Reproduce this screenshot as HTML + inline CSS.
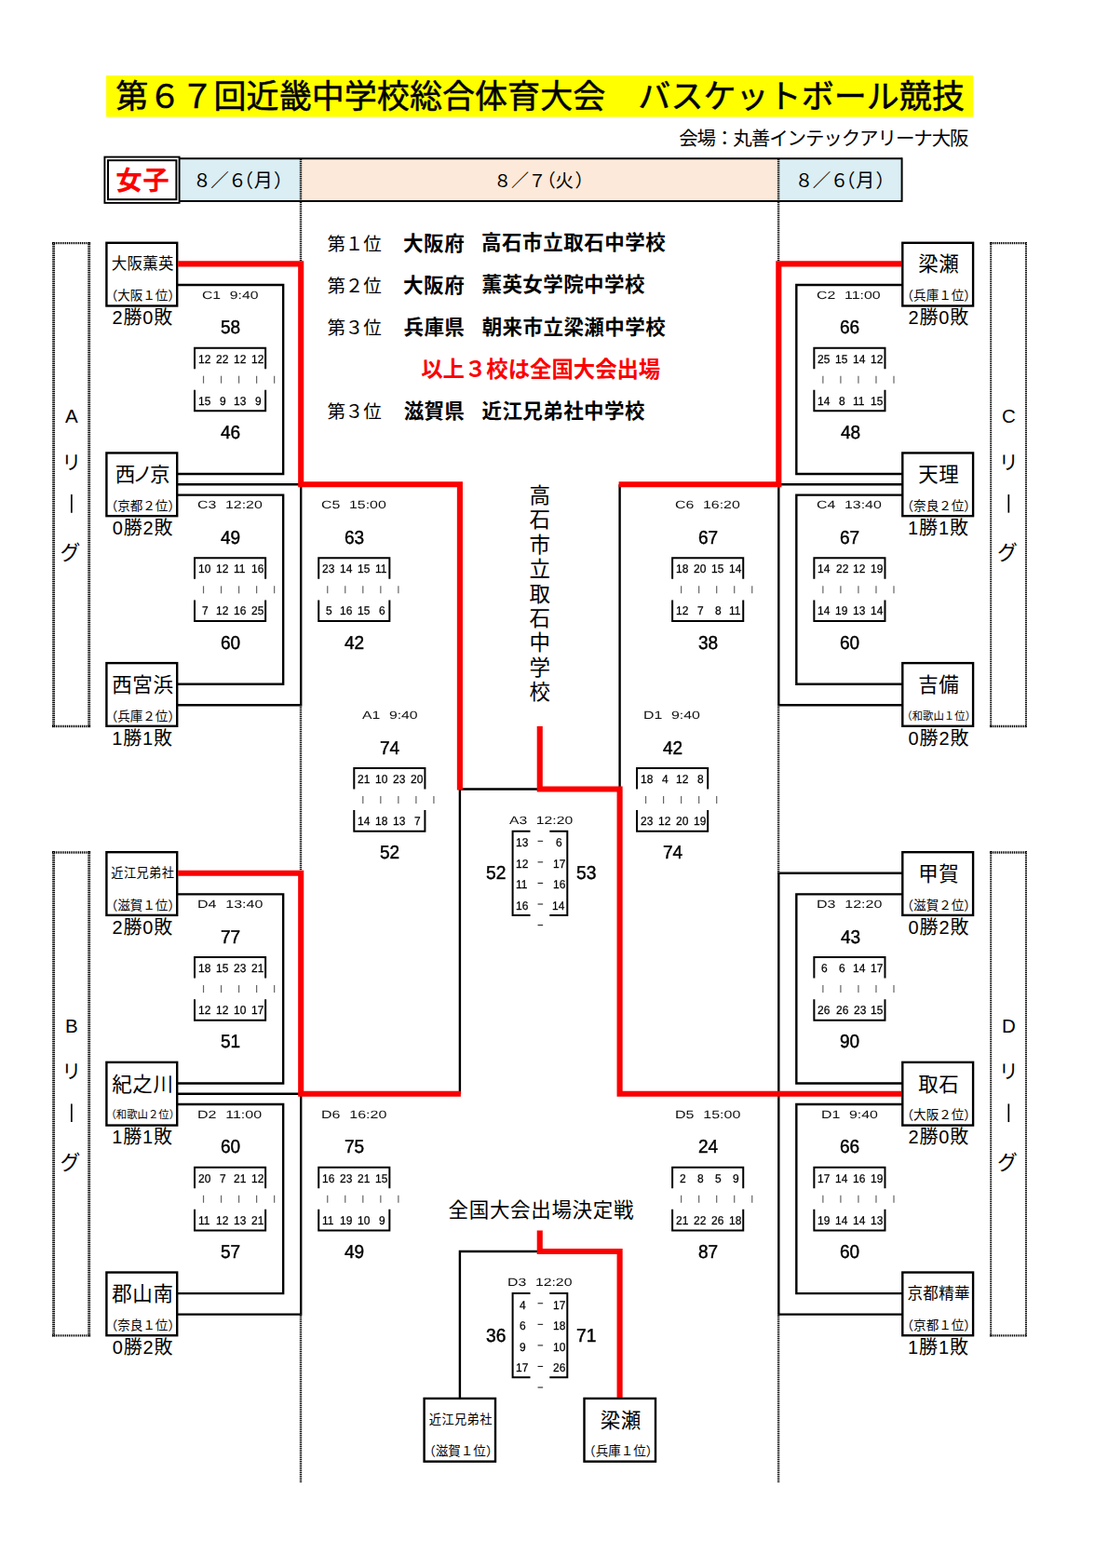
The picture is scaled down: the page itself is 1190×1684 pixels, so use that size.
<!DOCTYPE html>
<html lang="ja"><head><meta charset="utf-8">
<title>第67回近畿中学校総合体育大会 バスケットボール競技 女子</title>
<style>
html,body{margin:0;padding:0;background:#fff}
body{width:1190px;height:1684px;position:relative;overflow:hidden;font-family:"Liberation Sans",sans-serif;color:#000}
#art{position:absolute;left:0;top:0;width:1190px;height:1684px;display:block}
#art text{font-family:"Liberation Sans","Noto Sans CJK JP",sans-serif;fill:#000}
#art text.r{fill:#fb0000}
.t{position:absolute;white-space:pre;line-height:1;margin:0;padding:0}
.t{transform-origin:0 50%;text-rendering:geometricPrecision}
.t.b{-webkit-text-stroke:.45px #000}
.t.q{-webkit-text-stroke:.25px #000}
#labels{transform:translateZ(0)}
</style></head><body>
<svg id="art" width="1190" height="1684" viewBox="0 0 1190 1684">
<rect x="114.10" y="81.10" width="931.10" height="44.50" fill="#ffff00"/>
<rect x="193.00" y="170.30" width="130.20" height="45.60" fill="#daeef3"/>
<rect x="323.20" y="170.30" width="513.10" height="45.60" fill="#fde9d9"/>
<rect x="836.30" y="170.30" width="132.30" height="45.60" fill="#daeef3"/>
<path d="M323.00 171V281" stroke="#000" stroke-width="2.4" stroke-dasharray="1.15 0.85" fill="none"/>
<path d="M323.00 759V936" stroke="#000" stroke-width="2.4" stroke-dasharray="1.15 0.85" fill="none"/>
<path d="M323.00 1413V1592" stroke="#000" stroke-width="2.4" stroke-dasharray="1.15 0.85" fill="none"/>
<path d="M836.10 171V281" stroke="#000" stroke-width="2.4" stroke-dasharray="1.15 0.85" fill="none"/>
<path d="M836.10 759V938" stroke="#000" stroke-width="2.4" stroke-dasharray="1.15 0.85" fill="none"/>
<path d="M836.10 1413V1592" stroke="#000" stroke-width="2.4" stroke-dasharray="1.15 0.85" fill="none"/>
<path d="M193.00 170.30 L968.60 170.30" fill="none" stroke="#000" stroke-width="2.00" stroke-linecap="butt" stroke-linejoin="miter"/>
<path d="M193.00 215.90 L968.60 215.90" fill="none" stroke="#000" stroke-width="2.00" stroke-linecap="butt" stroke-linejoin="miter"/>
<path d="M968.60 169.30 L968.60 216.90" fill="none" stroke="#000" stroke-width="2.00" stroke-linecap="butt" stroke-linejoin="miter"/>
<rect x="112.40" y="168.60" width="80.20" height="49.30" fill="none" stroke="#000" stroke-width="1.90"/>
<rect x="116.00" y="172.20" width="73.40" height="42.00" fill="none" stroke="#000" stroke-width="2.00"/>
<text x="124.34" y="115.71" font-size="35" textLength="911.6" stroke="#000" stroke-width="0.5">第６７回近畿中学校総合体育大会　バスケットボール競技</text>
<text x="729.16" y="155.83" font-size="20.5" textLength="311.4">会場：丸善インテックアリーナ大阪</text>
<text class="r" x="124.21" y="204.18" font-size="28.5" font-weight="bold" textLength="57.5">女子</text>
<text x="207.25" y="201.25" font-size="19.5" textLength="57.5">８／６</text>
<text x="252 272.7 294.1" y="201.29" font-size="20">（月）</text>
<text x="530.33" y="201.25" font-size="19" textLength="56.2">８／７</text>
<text x="577.3 596.6 617.4" y="201.39" font-size="19.5">（火）</text>
<text x="853.75" y="201.25" font-size="19.5" textLength="57.5">８／６</text>
<text x="898.4 919.2 940.6" y="201.29" font-size="20">（月）</text>
<text x="351.42" y="268.75" font-size="19.5" textLength="58.4">第１位</text>
<text x="433.00" y="268.50" font-size="21.5" font-weight="bold" textLength="65.7">大阪府</text>
<text x="517.10" y="268.41" font-size="21.5" font-weight="bold" textLength="197.6">高石市立取石中学校</text>
<text x="351.42" y="313.88" font-size="19.5" textLength="58.4">第２位</text>
<text x="433.00" y="313.63" font-size="21.5" font-weight="bold" textLength="65.7">大阪府</text>
<text x="517.48" y="313.39" font-size="21.5" font-weight="bold" textLength="175">薫英女学院中学校</text>
<text x="351.42" y="359.01" font-size="19.5" textLength="58.4">第３位</text>
<text x="433.46" y="358.82" font-size="21.5" font-weight="bold" textLength="65.4">兵庫県</text>
<text x="517.66" y="358.65" font-size="21.5" font-weight="bold" textLength="197">朝来市立梁瀬中学校</text>
<text x="351.42" y="449.28" font-size="19.5" textLength="58.4">第３位</text>
<text x="433.67" y="448.86" font-size="21.5" font-weight="bold" textLength="65.2">滋賀県</text>
<text x="517.48" y="449.03" font-size="21.5" font-weight="bold" textLength="175">近江兄弟社中学校</text>
<text class="r" x="452.24" y="405.14" font-size="23.4" font-weight="bold" textLength="257">以上３校は全国大会出場</text>
<path d="M57.60 260V781" stroke="#000" stroke-width="2.9" stroke-dasharray="1.2 0.8" fill="none"/>
<path d="M95.70 260V781" stroke="#000" stroke-width="2.9" stroke-dasharray="1.2 0.8" fill="none"/>
<path d="M56 261.10H97" stroke="#000" stroke-width="2.3" stroke-dasharray="1.2 0.8" fill="none"/>
<path d="M56 780.02H97" stroke="#000" stroke-width="2.3" stroke-dasharray="1.2 0.8" fill="none"/>
<text x="76.85" y="454.3" font-size="20.5" text-anchor="middle">A</text>
<text x="76.85" y="503.79" font-size="21" text-anchor="middle">リ</text>
<path d="M76.85 531.06 L76.85 550.66" fill="none" stroke="#000" stroke-width="1.70" stroke-linecap="butt" stroke-linejoin="miter"/>
<text x="64.60" y="601.33" font-size="21.8">グ</text>
<path d="M57.60 914V1436" stroke="#000" stroke-width="2.9" stroke-dasharray="1.2 0.8" fill="none"/>
<path d="M95.70 914V1436" stroke="#000" stroke-width="2.9" stroke-dasharray="1.2 0.8" fill="none"/>
<path d="M56 915.51H97" stroke="#000" stroke-width="2.3" stroke-dasharray="1.2 0.8" fill="none"/>
<path d="M56 1434.43H97" stroke="#000" stroke-width="2.3" stroke-dasharray="1.2 0.8" fill="none"/>
<text x="76.85" y="1108.7" font-size="20.5" text-anchor="middle">B</text>
<text x="76.85" y="1158.20" font-size="21" text-anchor="middle">リ</text>
<path d="M76.85 1185.47 L76.85 1205.07" fill="none" stroke="#000" stroke-width="1.70" stroke-linecap="butt" stroke-linejoin="miter"/>
<text x="64.60" y="1255.74" font-size="21.8">グ</text>
<path d="M1064.20 260V781" stroke="#000" stroke-width="2.0" stroke-dasharray="1.2 0.8" fill="none"/>
<path d="M1102.00 260V781" stroke="#000" stroke-width="2.0" stroke-dasharray="1.2 0.8" fill="none"/>
<path d="M1063 261.10H1103" stroke="#000" stroke-width="2.3" stroke-dasharray="1.2 0.8" fill="none"/>
<path d="M1063 780.02H1103" stroke="#000" stroke-width="2.3" stroke-dasharray="1.2 0.8" fill="none"/>
<text x="1083.3" y="454.3" font-size="20.5" text-anchor="middle">C</text>
<text x="1083.3" y="503.79" font-size="21" text-anchor="middle">リ</text>
<path d="M1083.30 531.06 L1083.30 550.66" fill="none" stroke="#000" stroke-width="1.70" stroke-linecap="butt" stroke-linejoin="miter"/>
<text x="1071.05" y="601.33" font-size="21.8">グ</text>
<path d="M1064.20 914V1436" stroke="#000" stroke-width="2.0" stroke-dasharray="1.2 0.8" fill="none"/>
<path d="M1102.00 914V1436" stroke="#000" stroke-width="2.0" stroke-dasharray="1.2 0.8" fill="none"/>
<path d="M1063 915.51H1103" stroke="#000" stroke-width="2.3" stroke-dasharray="1.2 0.8" fill="none"/>
<path d="M1063 1434.43H1103" stroke="#000" stroke-width="2.3" stroke-dasharray="1.2 0.8" fill="none"/>
<text x="1083.3" y="1108.7" font-size="20.5" text-anchor="middle">D</text>
<text x="1083.3" y="1158.20" font-size="21" text-anchor="middle">リ</text>
<path d="M1083.30 1185.47 L1083.30 1205.07" fill="none" stroke="#000" stroke-width="1.70" stroke-linecap="butt" stroke-linejoin="miter"/>
<text x="1071.05" y="1255.74" font-size="21.8">グ</text>
<text font-size="22.5" x="568.48 568.48 568.48 568.48 568.48 568.48 568.48 568.48 568.48" y="539.74 566.19 592.64 619.09 645.54 671.99 698.44 724.89 751.34">高石市立取石中学校</text>
<text x="481.55" y="1306.50" font-size="21.5" textLength="198.9">全国大会出場決定戦</text>
<rect x="114.40" y="260.80" width="75.80" height="67.70" fill="none" stroke="#000" stroke-width="2.40"/>
<text x="119.70" y="289.09" font-size="16.5" textLength="66.8">大阪薫英</text>
<text x="112.65" y="322.18" font-size="13.56">（大阪１位）</text>
<text x="120.54" y="348.33" font-size="20" textLength="64.8">2勝0敗</text>
<rect x="114.40" y="486.46" width="75.80" height="67.70" fill="none" stroke="#000" stroke-width="2.40"/>
<text x="123.65" y="517.13" font-size="21.5" textLength="58.9">西ノ京</text>
<text x="112.65" y="547.84" font-size="13.56">（京都２位）</text>
<text x="120.69" y="573.99" font-size="20" textLength="64.8">0勝2敗</text>
<rect x="114.40" y="712.12" width="75.80" height="67.70" fill="none" stroke="#000" stroke-width="2.40"/>
<text x="120.25" y="742.79" font-size="21.5" textLength="65.7">西宮浜</text>
<text x="112.65" y="773.50" font-size="13.56">（兵庫２位）</text>
<text x="120.20" y="799.65" font-size="20" textLength="64.8">1勝1敗</text>
<rect x="114.40" y="915.21" width="75.80" height="67.70" fill="none" stroke="#000" stroke-width="2.40"/>
<text x="119.35" y="942.29" font-size="13.2" textLength="67.5">近江兄弟社</text>
<text x="112.65" y="976.60" font-size="13.56">（滋賀１位）</text>
<text x="120.54" y="1002.74" font-size="20" textLength="64.8">2勝0敗</text>
<rect x="114.40" y="1140.87" width="75.80" height="67.70" fill="none" stroke="#000" stroke-width="2.40"/>
<text x="120.25" y="1171.54" font-size="21.5" textLength="65.7">紀之川</text>
<text x="113.40" y="1201.31" font-size="11.4">（和歌山２位）</text>
<text x="120.20" y="1228.40" font-size="20" textLength="64.8">1勝1敗</text>
<rect x="114.40" y="1366.53" width="75.80" height="67.70" fill="none" stroke="#000" stroke-width="2.40"/>
<text x="120.25" y="1397.20" font-size="21.5" textLength="65.7">郡山南</text>
<text x="112.65" y="1427.92" font-size="13.56">（奈良１位）</text>
<text x="120.69" y="1454.06" font-size="20" textLength="64.8">0勝2敗</text>
<rect x="969.30" y="260.80" width="75.80" height="67.70" fill="none" stroke="#000" stroke-width="2.40"/>
<text x="986.20" y="291.43" font-size="21.5" textLength="43.6">梁瀬</text>
<text x="967.55" y="322.18" font-size="13.56">（兵庫１位）</text>
<text x="975.44" y="348.33" font-size="20" textLength="64.8">2勝0敗</text>
<rect x="969.30" y="486.46" width="75.80" height="67.70" fill="none" stroke="#000" stroke-width="2.40"/>
<text x="986.20" y="517.09" font-size="21.5" textLength="43.6">天理</text>
<text x="967.55" y="547.84" font-size="13.56">（奈良２位）</text>
<text x="975.10" y="573.99" font-size="20" textLength="64.8">1勝1敗</text>
<rect x="969.30" y="712.12" width="75.80" height="67.70" fill="none" stroke="#000" stroke-width="2.40"/>
<text x="986.20" y="742.75" font-size="21.5" textLength="43.6">吉備</text>
<text x="968.30" y="772.55" font-size="11.4">（和歌山１位）</text>
<text x="975.59" y="799.65" font-size="20" textLength="64.8">0勝2敗</text>
<rect x="969.30" y="915.21" width="75.80" height="67.70" fill="none" stroke="#000" stroke-width="2.40"/>
<text x="986.20" y="945.85" font-size="21.5" textLength="43.6">甲賀</text>
<text x="967.55" y="976.60" font-size="13.56">（滋賀２位）</text>
<text x="975.59" y="1002.74" font-size="20" textLength="64.8">0勝2敗</text>
<rect x="969.30" y="1140.87" width="75.80" height="67.70" fill="none" stroke="#000" stroke-width="2.40"/>
<text x="986.20" y="1171.51" font-size="21.5" textLength="43.6">取石</text>
<text x="967.55" y="1202.26" font-size="13.56">（大阪２位）</text>
<text x="975.44" y="1228.40" font-size="20" textLength="64.8">2勝0敗</text>
<rect x="969.30" y="1366.53" width="75.80" height="67.70" fill="none" stroke="#000" stroke-width="2.40"/>
<text x="974.60" y="1394.83" font-size="16.5" textLength="66.8">京都精華</text>
<text x="967.55" y="1427.92" font-size="13.56">（京都１位）</text>
<text x="975.10" y="1454.06" font-size="20" textLength="64.8">1勝1敗</text>
<rect x="455.60" y="1501.93" width="76.40" height="67.70" fill="none" stroke="#000" stroke-width="2.40"/>
<text x="460.85" y="1529.01" font-size="13.2" textLength="67.5">近江兄弟社</text>
<text x="454.15" y="1563.31" font-size="13.56">（滋賀１位）</text>
<rect x="627.50" y="1501.93" width="76.50" height="67.70" fill="none" stroke="#000" stroke-width="2.40"/>
<text x="644.75" y="1532.56" font-size="21.5" textLength="43.6">梁瀬</text>
<text x="626.10" y="1563.31" font-size="13.56">（兵庫１位）</text>
<path d="M190.20 305.93 L304.17 305.93 L304.17 509.03 L190.20 509.03" fill="none" stroke="#000" stroke-width="2.40" stroke-linecap="butt" stroke-linejoin="miter"/>
<path d="M190.20 531.59 L304.17 531.59 L304.17 734.69 L190.20 734.69" fill="none" stroke="#000" stroke-width="2.40" stroke-linecap="butt" stroke-linejoin="miter"/>
<path d="M969.30 305.93 L855.33 305.93 L855.33 509.03 L969.30 509.03" fill="none" stroke="#000" stroke-width="2.40" stroke-linecap="butt" stroke-linejoin="miter"/>
<path d="M969.30 531.59 L855.33 531.59 L855.33 734.69 L969.30 734.69" fill="none" stroke="#000" stroke-width="2.40" stroke-linecap="butt" stroke-linejoin="miter"/>
<path d="M190.20 960.35 L304.17 960.35 L304.17 1163.44 L190.20 1163.44" fill="none" stroke="#000" stroke-width="2.40" stroke-linecap="butt" stroke-linejoin="miter"/>
<path d="M190.20 1186.01 L304.17 1186.01 L304.17 1389.10 L190.20 1389.10" fill="none" stroke="#000" stroke-width="2.40" stroke-linecap="butt" stroke-linejoin="miter"/>
<path d="M969.30 960.35 L855.33 960.35 L855.33 1163.44 L969.30 1163.44" fill="none" stroke="#000" stroke-width="2.40" stroke-linecap="butt" stroke-linejoin="miter"/>
<path d="M969.30 1186.01 L855.33 1186.01 L855.33 1389.10 L969.30 1389.10" fill="none" stroke="#000" stroke-width="2.40" stroke-linecap="butt" stroke-linejoin="miter"/>
<path d="M190.20 520.31 L323.20 520.31" fill="none" stroke="#000" stroke-width="2.40" stroke-linecap="butt" stroke-linejoin="miter"/>
<path d="M190.20 757.25 L323.20 757.25 L323.20 520.31" fill="none" stroke="#000" stroke-width="2.40" stroke-linecap="butt" stroke-linejoin="miter"/>
<path d="M190.20 1174.72 L323.20 1174.72" fill="none" stroke="#000" stroke-width="2.40" stroke-linecap="butt" stroke-linejoin="miter"/>
<path d="M190.20 1411.67 L323.20 1411.67 L323.20 1174.72" fill="none" stroke="#000" stroke-width="2.40" stroke-linecap="butt" stroke-linejoin="miter"/>
<path d="M969.30 520.31 L836.30 520.31" fill="none" stroke="#000" stroke-width="2.40" stroke-linecap="butt" stroke-linejoin="miter"/>
<path d="M969.30 757.25 L836.30 757.25 L836.30 520.31" fill="none" stroke="#000" stroke-width="2.40" stroke-linecap="butt" stroke-linejoin="miter"/>
<path d="M969.30 937.78 L836.30 937.78 L836.30 1411.67 L969.30 1411.67" fill="none" stroke="#000" stroke-width="2.40" stroke-linecap="butt" stroke-linejoin="miter"/>
<path d="M493.90 847.52 L493.90 1174.72" fill="none" stroke="#000" stroke-width="2.40" stroke-linecap="butt" stroke-linejoin="miter"/>
<path d="M493.90 847.52 L579.75 847.52" fill="none" stroke="#000" stroke-width="2.40" stroke-linecap="butt" stroke-linejoin="miter"/>
<path d="M665.60 520.31 L665.60 847.52" fill="none" stroke="#000" stroke-width="2.40" stroke-linecap="butt" stroke-linejoin="miter"/>
<path d="M493.90 1501.93 L493.90 1343.97 L579.75 1343.97" fill="none" stroke="#000" stroke-width="2.40" stroke-linecap="butt" stroke-linejoin="miter"/>
<path d="M191.20 283.37 L323.20 283.37 L323.20 520.31 L493.90 520.31 L493.90 848.52" fill="none" stroke="#fb0000" stroke-width="6.10" stroke-linecap="butt" stroke-linejoin="miter"/>
<path d="M191.20 937.78 L323.20 937.78 L323.20 1174.72 L494.90 1174.72" fill="none" stroke="#fb0000" stroke-width="6.10" stroke-linecap="butt" stroke-linejoin="miter"/>
<path d="M968.30 283.37 L836.30 283.37 L836.30 520.31 L664.60 520.31" fill="none" stroke="#fb0000" stroke-width="6.10" stroke-linecap="butt" stroke-linejoin="miter"/>
<path d="M968.30 1174.72 L665.60 1174.72 L665.60 847.52 L579.75 847.52 L579.75 780.00" fill="none" stroke="#fb0000" stroke-width="6.10" stroke-linecap="butt" stroke-linejoin="miter"/>
<path d="M579.75 1321.50 L579.75 1343.97 L665.60 1343.97 L665.60 1500.93" fill="none" stroke="#fb0000" stroke-width="6.10" stroke-linecap="butt" stroke-linejoin="miter"/>
<path d="M209.02 396.20 L209.02 373.63 L285.14 373.63 L285.14 396.20" fill="none" stroke="#000" stroke-width="2.00" stroke-linecap="butt" stroke-linejoin="miter"/>
<path d="M209.02 418.76 L209.02 441.33 L285.14 441.33 L285.14 418.76" fill="none" stroke="#000" stroke-width="2.00" stroke-linecap="butt" stroke-linejoin="miter"/>
<path d="M218.53 403.68 L218.53 411.68" fill="none" stroke="#666" stroke-width="1.20" stroke-linecap="butt" stroke-linejoin="miter"/>
<path d="M237.56 403.68 L237.56 411.68" fill="none" stroke="#666" stroke-width="1.20" stroke-linecap="butt" stroke-linejoin="miter"/>
<path d="M256.59 403.68 L256.59 411.68" fill="none" stroke="#666" stroke-width="1.20" stroke-linecap="butt" stroke-linejoin="miter"/>
<path d="M275.62 403.68 L275.62 411.68" fill="none" stroke="#666" stroke-width="1.20" stroke-linecap="butt" stroke-linejoin="miter"/>
<path d="M294.65 403.68 L294.65 411.68" fill="none" stroke="#666" stroke-width="1.20" stroke-linecap="butt" stroke-linejoin="miter"/>
<path d="M209.02 621.86 L209.02 599.29 L285.14 599.29 L285.14 621.86" fill="none" stroke="#000" stroke-width="2.00" stroke-linecap="butt" stroke-linejoin="miter"/>
<path d="M209.02 644.42 L209.02 666.99 L285.14 666.99 L285.14 644.42" fill="none" stroke="#000" stroke-width="2.00" stroke-linecap="butt" stroke-linejoin="miter"/>
<path d="M218.53 629.34 L218.53 637.34" fill="none" stroke="#666" stroke-width="1.20" stroke-linecap="butt" stroke-linejoin="miter"/>
<path d="M237.56 629.34 L237.56 637.34" fill="none" stroke="#666" stroke-width="1.20" stroke-linecap="butt" stroke-linejoin="miter"/>
<path d="M256.59 629.34 L256.59 637.34" fill="none" stroke="#666" stroke-width="1.20" stroke-linecap="butt" stroke-linejoin="miter"/>
<path d="M275.62 629.34 L275.62 637.34" fill="none" stroke="#666" stroke-width="1.20" stroke-linecap="butt" stroke-linejoin="miter"/>
<path d="M294.65 629.34 L294.65 637.34" fill="none" stroke="#666" stroke-width="1.20" stroke-linecap="butt" stroke-linejoin="miter"/>
<path d="M209.02 1050.61 L209.02 1028.04 L285.14 1028.04 L285.14 1050.61" fill="none" stroke="#000" stroke-width="2.00" stroke-linecap="butt" stroke-linejoin="miter"/>
<path d="M209.02 1073.18 L209.02 1095.74 L285.14 1095.74 L285.14 1073.18" fill="none" stroke="#000" stroke-width="2.00" stroke-linecap="butt" stroke-linejoin="miter"/>
<path d="M218.53 1058.09 L218.53 1066.09" fill="none" stroke="#666" stroke-width="1.20" stroke-linecap="butt" stroke-linejoin="miter"/>
<path d="M237.56 1058.09 L237.56 1066.09" fill="none" stroke="#666" stroke-width="1.20" stroke-linecap="butt" stroke-linejoin="miter"/>
<path d="M256.59 1058.09 L256.59 1066.09" fill="none" stroke="#666" stroke-width="1.20" stroke-linecap="butt" stroke-linejoin="miter"/>
<path d="M275.62 1058.09 L275.62 1066.09" fill="none" stroke="#666" stroke-width="1.20" stroke-linecap="butt" stroke-linejoin="miter"/>
<path d="M294.65 1058.09 L294.65 1066.09" fill="none" stroke="#666" stroke-width="1.20" stroke-linecap="butt" stroke-linejoin="miter"/>
<path d="M209.02 1276.27 L209.02 1253.70 L285.14 1253.70 L285.14 1276.27" fill="none" stroke="#000" stroke-width="2.00" stroke-linecap="butt" stroke-linejoin="miter"/>
<path d="M209.02 1298.84 L209.02 1321.40 L285.14 1321.40 L285.14 1298.84" fill="none" stroke="#000" stroke-width="2.00" stroke-linecap="butt" stroke-linejoin="miter"/>
<path d="M218.53 1283.75 L218.53 1291.75" fill="none" stroke="#666" stroke-width="1.20" stroke-linecap="butt" stroke-linejoin="miter"/>
<path d="M237.56 1283.75 L237.56 1291.75" fill="none" stroke="#666" stroke-width="1.20" stroke-linecap="butt" stroke-linejoin="miter"/>
<path d="M256.59 1283.75 L256.59 1291.75" fill="none" stroke="#666" stroke-width="1.20" stroke-linecap="butt" stroke-linejoin="miter"/>
<path d="M275.62 1283.75 L275.62 1291.75" fill="none" stroke="#666" stroke-width="1.20" stroke-linecap="butt" stroke-linejoin="miter"/>
<path d="M294.65 1283.75 L294.65 1291.75" fill="none" stroke="#666" stroke-width="1.20" stroke-linecap="butt" stroke-linejoin="miter"/>
<path d="M874.36 396.20 L874.36 373.63 L950.48 373.63 L950.48 396.20" fill="none" stroke="#000" stroke-width="2.00" stroke-linecap="butt" stroke-linejoin="miter"/>
<path d="M874.36 418.76 L874.36 441.33 L950.48 441.33 L950.48 418.76" fill="none" stroke="#000" stroke-width="2.00" stroke-linecap="butt" stroke-linejoin="miter"/>
<path d="M883.87 403.68 L883.87 411.68" fill="none" stroke="#666" stroke-width="1.20" stroke-linecap="butt" stroke-linejoin="miter"/>
<path d="M902.90 403.68 L902.90 411.68" fill="none" stroke="#666" stroke-width="1.20" stroke-linecap="butt" stroke-linejoin="miter"/>
<path d="M921.93 403.68 L921.93 411.68" fill="none" stroke="#666" stroke-width="1.20" stroke-linecap="butt" stroke-linejoin="miter"/>
<path d="M940.96 403.68 L940.96 411.68" fill="none" stroke="#666" stroke-width="1.20" stroke-linecap="butt" stroke-linejoin="miter"/>
<path d="M959.99 403.68 L959.99 411.68" fill="none" stroke="#666" stroke-width="1.20" stroke-linecap="butt" stroke-linejoin="miter"/>
<path d="M874.36 621.86 L874.36 599.29 L950.48 599.29 L950.48 621.86" fill="none" stroke="#000" stroke-width="2.00" stroke-linecap="butt" stroke-linejoin="miter"/>
<path d="M874.36 644.42 L874.36 666.99 L950.48 666.99 L950.48 644.42" fill="none" stroke="#000" stroke-width="2.00" stroke-linecap="butt" stroke-linejoin="miter"/>
<path d="M883.87 629.34 L883.87 637.34" fill="none" stroke="#666" stroke-width="1.20" stroke-linecap="butt" stroke-linejoin="miter"/>
<path d="M902.90 629.34 L902.90 637.34" fill="none" stroke="#666" stroke-width="1.20" stroke-linecap="butt" stroke-linejoin="miter"/>
<path d="M921.93 629.34 L921.93 637.34" fill="none" stroke="#666" stroke-width="1.20" stroke-linecap="butt" stroke-linejoin="miter"/>
<path d="M940.96 629.34 L940.96 637.34" fill="none" stroke="#666" stroke-width="1.20" stroke-linecap="butt" stroke-linejoin="miter"/>
<path d="M959.99 629.34 L959.99 637.34" fill="none" stroke="#666" stroke-width="1.20" stroke-linecap="butt" stroke-linejoin="miter"/>
<path d="M874.36 1050.61 L874.36 1028.04 L950.48 1028.04 L950.48 1050.61" fill="none" stroke="#000" stroke-width="2.00" stroke-linecap="butt" stroke-linejoin="miter"/>
<path d="M874.36 1073.18 L874.36 1095.74 L950.48 1095.74 L950.48 1073.18" fill="none" stroke="#000" stroke-width="2.00" stroke-linecap="butt" stroke-linejoin="miter"/>
<path d="M883.87 1058.09 L883.87 1066.09" fill="none" stroke="#666" stroke-width="1.20" stroke-linecap="butt" stroke-linejoin="miter"/>
<path d="M902.90 1058.09 L902.90 1066.09" fill="none" stroke="#666" stroke-width="1.20" stroke-linecap="butt" stroke-linejoin="miter"/>
<path d="M921.93 1058.09 L921.93 1066.09" fill="none" stroke="#666" stroke-width="1.20" stroke-linecap="butt" stroke-linejoin="miter"/>
<path d="M940.96 1058.09 L940.96 1066.09" fill="none" stroke="#666" stroke-width="1.20" stroke-linecap="butt" stroke-linejoin="miter"/>
<path d="M959.99 1058.09 L959.99 1066.09" fill="none" stroke="#666" stroke-width="1.20" stroke-linecap="butt" stroke-linejoin="miter"/>
<path d="M874.36 1276.27 L874.36 1253.70 L950.48 1253.70 L950.48 1276.27" fill="none" stroke="#000" stroke-width="2.00" stroke-linecap="butt" stroke-linejoin="miter"/>
<path d="M874.36 1298.84 L874.36 1321.40 L950.48 1321.40 L950.48 1298.84" fill="none" stroke="#000" stroke-width="2.00" stroke-linecap="butt" stroke-linejoin="miter"/>
<path d="M883.87 1283.75 L883.87 1291.75" fill="none" stroke="#666" stroke-width="1.20" stroke-linecap="butt" stroke-linejoin="miter"/>
<path d="M902.90 1283.75 L902.90 1291.75" fill="none" stroke="#666" stroke-width="1.20" stroke-linecap="butt" stroke-linejoin="miter"/>
<path d="M921.93 1283.75 L921.93 1291.75" fill="none" stroke="#666" stroke-width="1.20" stroke-linecap="butt" stroke-linejoin="miter"/>
<path d="M940.96 1283.75 L940.96 1291.75" fill="none" stroke="#666" stroke-width="1.20" stroke-linecap="butt" stroke-linejoin="miter"/>
<path d="M959.99 1283.75 L959.99 1291.75" fill="none" stroke="#666" stroke-width="1.20" stroke-linecap="butt" stroke-linejoin="miter"/>
<path d="M342.23 621.86 L342.23 599.29 L418.35 599.29 L418.35 621.86" fill="none" stroke="#000" stroke-width="2.00" stroke-linecap="butt" stroke-linejoin="miter"/>
<path d="M342.23 644.42 L342.23 666.99 L418.35 666.99 L418.35 644.42" fill="none" stroke="#000" stroke-width="2.00" stroke-linecap="butt" stroke-linejoin="miter"/>
<path d="M351.75 629.34 L351.75 637.34" fill="none" stroke="#666" stroke-width="1.20" stroke-linecap="butt" stroke-linejoin="miter"/>
<path d="M370.78 629.34 L370.78 637.34" fill="none" stroke="#666" stroke-width="1.20" stroke-linecap="butt" stroke-linejoin="miter"/>
<path d="M389.81 629.34 L389.81 637.34" fill="none" stroke="#666" stroke-width="1.20" stroke-linecap="butt" stroke-linejoin="miter"/>
<path d="M408.84 629.34 L408.84 637.34" fill="none" stroke="#666" stroke-width="1.20" stroke-linecap="butt" stroke-linejoin="miter"/>
<path d="M427.87 629.34 L427.87 637.34" fill="none" stroke="#666" stroke-width="1.20" stroke-linecap="butt" stroke-linejoin="miter"/>
<path d="M722.12 621.86 L722.12 599.29 L798.24 599.29 L798.24 621.86" fill="none" stroke="#000" stroke-width="2.00" stroke-linecap="butt" stroke-linejoin="miter"/>
<path d="M722.12 644.42 L722.12 666.99 L798.24 666.99 L798.24 644.42" fill="none" stroke="#000" stroke-width="2.00" stroke-linecap="butt" stroke-linejoin="miter"/>
<path d="M731.63 629.34 L731.63 637.34" fill="none" stroke="#666" stroke-width="1.20" stroke-linecap="butt" stroke-linejoin="miter"/>
<path d="M750.66 629.34 L750.66 637.34" fill="none" stroke="#666" stroke-width="1.20" stroke-linecap="butt" stroke-linejoin="miter"/>
<path d="M769.69 629.34 L769.69 637.34" fill="none" stroke="#666" stroke-width="1.20" stroke-linecap="butt" stroke-linejoin="miter"/>
<path d="M788.72 629.34 L788.72 637.34" fill="none" stroke="#666" stroke-width="1.20" stroke-linecap="butt" stroke-linejoin="miter"/>
<path d="M807.75 629.34 L807.75 637.34" fill="none" stroke="#666" stroke-width="1.20" stroke-linecap="butt" stroke-linejoin="miter"/>
<path d="M380.29 847.52 L380.29 824.95 L456.41 824.95 L456.41 847.52" fill="none" stroke="#000" stroke-width="2.00" stroke-linecap="butt" stroke-linejoin="miter"/>
<path d="M380.29 870.08 L380.29 892.65 L456.41 892.65 L456.41 870.08" fill="none" stroke="#000" stroke-width="2.00" stroke-linecap="butt" stroke-linejoin="miter"/>
<path d="M389.80 855.00 L389.80 863.00" fill="none" stroke="#666" stroke-width="1.20" stroke-linecap="butt" stroke-linejoin="miter"/>
<path d="M408.83 855.00 L408.83 863.00" fill="none" stroke="#666" stroke-width="1.20" stroke-linecap="butt" stroke-linejoin="miter"/>
<path d="M427.86 855.00 L427.86 863.00" fill="none" stroke="#666" stroke-width="1.20" stroke-linecap="butt" stroke-linejoin="miter"/>
<path d="M446.89 855.00 L446.89 863.00" fill="none" stroke="#666" stroke-width="1.20" stroke-linecap="butt" stroke-linejoin="miter"/>
<path d="M465.92 855.00 L465.92 863.00" fill="none" stroke="#666" stroke-width="1.20" stroke-linecap="butt" stroke-linejoin="miter"/>
<path d="M684.06 847.52 L684.06 824.95 L760.18 824.95 L760.18 847.52" fill="none" stroke="#000" stroke-width="2.00" stroke-linecap="butt" stroke-linejoin="miter"/>
<path d="M684.06 870.08 L684.06 892.65 L760.18 892.65 L760.18 870.08" fill="none" stroke="#000" stroke-width="2.00" stroke-linecap="butt" stroke-linejoin="miter"/>
<path d="M693.57 855.00 L693.57 863.00" fill="none" stroke="#666" stroke-width="1.20" stroke-linecap="butt" stroke-linejoin="miter"/>
<path d="M712.60 855.00 L712.60 863.00" fill="none" stroke="#666" stroke-width="1.20" stroke-linecap="butt" stroke-linejoin="miter"/>
<path d="M731.63 855.00 L731.63 863.00" fill="none" stroke="#666" stroke-width="1.20" stroke-linecap="butt" stroke-linejoin="miter"/>
<path d="M750.66 855.00 L750.66 863.00" fill="none" stroke="#666" stroke-width="1.20" stroke-linecap="butt" stroke-linejoin="miter"/>
<path d="M769.69 855.00 L769.69 863.00" fill="none" stroke="#666" stroke-width="1.20" stroke-linecap="butt" stroke-linejoin="miter"/>
<path d="M342.23 1276.27 L342.23 1253.70 L418.35 1253.70 L418.35 1276.27" fill="none" stroke="#000" stroke-width="2.00" stroke-linecap="butt" stroke-linejoin="miter"/>
<path d="M342.23 1298.84 L342.23 1321.40 L418.35 1321.40 L418.35 1298.84" fill="none" stroke="#000" stroke-width="2.00" stroke-linecap="butt" stroke-linejoin="miter"/>
<path d="M351.75 1283.75 L351.75 1291.75" fill="none" stroke="#666" stroke-width="1.20" stroke-linecap="butt" stroke-linejoin="miter"/>
<path d="M370.78 1283.75 L370.78 1291.75" fill="none" stroke="#666" stroke-width="1.20" stroke-linecap="butt" stroke-linejoin="miter"/>
<path d="M389.81 1283.75 L389.81 1291.75" fill="none" stroke="#666" stroke-width="1.20" stroke-linecap="butt" stroke-linejoin="miter"/>
<path d="M408.84 1283.75 L408.84 1291.75" fill="none" stroke="#666" stroke-width="1.20" stroke-linecap="butt" stroke-linejoin="miter"/>
<path d="M427.87 1283.75 L427.87 1291.75" fill="none" stroke="#666" stroke-width="1.20" stroke-linecap="butt" stroke-linejoin="miter"/>
<path d="M722.12 1276.27 L722.12 1253.70 L798.24 1253.70 L798.24 1276.27" fill="none" stroke="#000" stroke-width="2.00" stroke-linecap="butt" stroke-linejoin="miter"/>
<path d="M722.12 1298.84 L722.12 1321.40 L798.24 1321.40 L798.24 1298.84" fill="none" stroke="#000" stroke-width="2.00" stroke-linecap="butt" stroke-linejoin="miter"/>
<path d="M731.63 1283.75 L731.63 1291.75" fill="none" stroke="#666" stroke-width="1.20" stroke-linecap="butt" stroke-linejoin="miter"/>
<path d="M750.66 1283.75 L750.66 1291.75" fill="none" stroke="#666" stroke-width="1.20" stroke-linecap="butt" stroke-linejoin="miter"/>
<path d="M769.69 1283.75 L769.69 1291.75" fill="none" stroke="#666" stroke-width="1.20" stroke-linecap="butt" stroke-linejoin="miter"/>
<path d="M788.72 1283.75 L788.72 1291.75" fill="none" stroke="#666" stroke-width="1.20" stroke-linecap="butt" stroke-linejoin="miter"/>
<path d="M807.75 1283.75 L807.75 1291.75" fill="none" stroke="#666" stroke-width="1.20" stroke-linecap="butt" stroke-linejoin="miter"/>
<path d="M569.50 892.65 L550.60 892.65 L550.60 982.91 L569.50 982.91" fill="none" stroke="#000" stroke-width="2.00" stroke-linecap="butt" stroke-linejoin="miter"/>
<path d="M590.30 892.65 L609.30 892.65 L609.30 982.91 L590.30 982.91" fill="none" stroke="#000" stroke-width="2.00" stroke-linecap="butt" stroke-linejoin="miter"/>
<path d="M577.55 903.33 L583.15 903.33" fill="none" stroke="#111" stroke-width="1.00" stroke-linecap="butt" stroke-linejoin="miter"/>
<path d="M577.55 925.90 L583.15 925.90" fill="none" stroke="#111" stroke-width="1.00" stroke-linecap="butt" stroke-linejoin="miter"/>
<path d="M577.55 948.46 L583.15 948.46" fill="none" stroke="#111" stroke-width="1.00" stroke-linecap="butt" stroke-linejoin="miter"/>
<path d="M577.55 971.03 L583.15 971.03" fill="none" stroke="#111" stroke-width="1.00" stroke-linecap="butt" stroke-linejoin="miter"/>
<path d="M577.55 993.59 L583.15 993.59" fill="none" stroke="#111" stroke-width="1.00" stroke-linecap="butt" stroke-linejoin="miter"/>
<path d="M569.50 1389.10 L550.60 1389.10 L550.60 1479.36 L569.50 1479.36" fill="none" stroke="#000" stroke-width="2.00" stroke-linecap="butt" stroke-linejoin="miter"/>
<path d="M590.30 1389.10 L609.30 1389.10 L609.30 1479.36 L590.30 1479.36" fill="none" stroke="#000" stroke-width="2.00" stroke-linecap="butt" stroke-linejoin="miter"/>
<path d="M577.55 1399.78 L583.15 1399.78" fill="none" stroke="#111" stroke-width="1.00" stroke-linecap="butt" stroke-linejoin="miter"/>
<path d="M577.55 1422.35 L583.15 1422.35" fill="none" stroke="#111" stroke-width="1.00" stroke-linecap="butt" stroke-linejoin="miter"/>
<path d="M577.55 1444.91 L583.15 1444.91" fill="none" stroke="#111" stroke-width="1.00" stroke-linecap="butt" stroke-linejoin="miter"/>
<path d="M577.55 1467.48 L583.15 1467.48" fill="none" stroke="#111" stroke-width="1.00" stroke-linecap="butt" stroke-linejoin="miter"/>
<path d="M577.55 1490.05 L583.15 1490.05" fill="none" stroke="#111" stroke-width="1.00" stroke-linecap="butt" stroke-linejoin="miter"/>
</svg>
<div id="labels">
<span class="t" style="left:216.78px;top:310.74px;font-size:12.01px;transform:scaleX(1.312);word-spacing:4.00px;color:#111">C1 9:40</span>
<span class="t b" style="left:237.05px;top:342.39px;font-size:20.00px;transform:scaleX(0.950)">58</span>
<span class="t b" style="left:237.21px;top:455.02px;font-size:20.00px;transform:scaleX(0.950)">46</span>
<span class="t q" style="left:213.02px;top:379.56px;font-size:12.60px;transform:scaleX(0.950)">12</span>
<span class="t q" style="left:212.97px;top:424.69px;font-size:12.60px;transform:scaleX(0.950)">15</span>
<span class="t q" style="left:232.21px;top:379.56px;font-size:12.60px;transform:scaleX(0.950)">22</span>
<span class="t q" style="left:235.54px;top:424.69px;font-size:12.60px;transform:scaleX(0.950)">9</span>
<span class="t q" style="left:251.08px;top:379.56px;font-size:12.60px;transform:scaleX(0.950)">12</span>
<span class="t q" style="left:251.04px;top:424.69px;font-size:12.60px;transform:scaleX(0.950)">13</span>
<span class="t q" style="left:270.11px;top:379.56px;font-size:12.60px;transform:scaleX(0.950)">12</span>
<span class="t q" style="left:273.60px;top:424.69px;font-size:12.60px;transform:scaleX(0.950)">9</span>
<span class="t" style="left:212.07px;top:536.40px;font-size:12.01px;transform:scaleX(1.324);word-spacing:4.00px;color:#111">C3 12:20</span>
<span class="t b" style="left:237.25px;top:568.05px;font-size:20.00px;transform:scaleX(0.950)">49</span>
<span class="t b" style="left:236.90px;top:680.68px;font-size:20.00px;transform:scaleX(0.950)">60</span>
<span class="t q" style="left:212.96px;top:605.22px;font-size:12.60px;transform:scaleX(0.950)">10</span>
<span class="t q" style="left:216.50px;top:650.35px;font-size:12.60px;transform:scaleX(0.950)">7</span>
<span class="t q" style="left:232.05px;top:605.22px;font-size:12.60px;transform:scaleX(0.950)">12</span>
<span class="t q" style="left:232.05px;top:650.35px;font-size:12.60px;transform:scaleX(0.950)">12</span>
<span class="t q" style="left:251.07px;top:605.22px;font-size:12.60px;transform:scaleX(0.950)">11</span>
<span class="t q" style="left:251.04px;top:650.35px;font-size:12.60px;transform:scaleX(0.950)">16</span>
<span class="t q" style="left:270.07px;top:605.22px;font-size:12.60px;transform:scaleX(0.950)">16</span>
<span class="t q" style="left:270.22px;top:650.35px;font-size:12.60px;transform:scaleX(0.950)">25</span>
<span class="t" style="left:211.57px;top:965.15px;font-size:12.01px;transform:scaleX(1.334);word-spacing:4.00px;color:#111">D4 13:40</span>
<span class="t b" style="left:237.00px;top:996.81px;font-size:20.00px;transform:scaleX(0.950)">77</span>
<span class="t b" style="left:237.10px;top:1109.44px;font-size:20.00px;transform:scaleX(0.950)">51</span>
<span class="t q" style="left:212.98px;top:1033.97px;font-size:12.60px;transform:scaleX(0.950)">18</span>
<span class="t q" style="left:213.02px;top:1079.10px;font-size:12.60px;transform:scaleX(0.950)">12</span>
<span class="t q" style="left:232.00px;top:1033.97px;font-size:12.60px;transform:scaleX(0.950)">15</span>
<span class="t q" style="left:232.05px;top:1079.10px;font-size:12.60px;transform:scaleX(0.950)">12</span>
<span class="t q" style="left:251.20px;top:1033.97px;font-size:12.60px;transform:scaleX(0.950)">23</span>
<span class="t q" style="left:251.02px;top:1079.10px;font-size:12.60px;transform:scaleX(0.950)">10</span>
<span class="t q" style="left:270.26px;top:1033.97px;font-size:12.60px;transform:scaleX(0.950)">21</span>
<span class="t q" style="left:270.11px;top:1079.10px;font-size:12.60px;transform:scaleX(0.950)">17</span>
<span class="t" style="left:211.57px;top:1190.81px;font-size:12.01px;transform:scaleX(1.334);word-spacing:4.00px;color:#111">D2 11:00</span>
<span class="t b" style="left:236.90px;top:1222.47px;font-size:20.00px;transform:scaleX(0.950)">60</span>
<span class="t b" style="left:237.11px;top:1335.10px;font-size:20.00px;transform:scaleX(0.950)">57</span>
<span class="t q" style="left:213.11px;top:1259.63px;font-size:12.60px;transform:scaleX(0.950)">20</span>
<span class="t q" style="left:213.01px;top:1304.76px;font-size:12.60px;transform:scaleX(0.950)">11</span>
<span class="t q" style="left:235.53px;top:1259.63px;font-size:12.60px;transform:scaleX(0.950)">7</span>
<span class="t q" style="left:232.05px;top:1304.76px;font-size:12.60px;transform:scaleX(0.950)">12</span>
<span class="t q" style="left:251.23px;top:1259.63px;font-size:12.60px;transform:scaleX(0.950)">21</span>
<span class="t q" style="left:251.04px;top:1304.76px;font-size:12.60px;transform:scaleX(0.950)">13</span>
<span class="t q" style="left:270.11px;top:1259.63px;font-size:12.60px;transform:scaleX(0.950)">12</span>
<span class="t q" style="left:270.26px;top:1304.76px;font-size:12.60px;transform:scaleX(0.950)">21</span>
<span class="t" style="left:877.41px;top:310.74px;font-size:12.01px;transform:scaleX(1.324);word-spacing:4.00px;color:#111">C2 11:00</span>
<span class="t b" style="left:902.29px;top:342.39px;font-size:20.00px;transform:scaleX(0.950)">66</span>
<span class="t b" style="left:902.55px;top:455.02px;font-size:20.00px;transform:scaleX(0.950)">48</span>
<span class="t q" style="left:878.47px;top:379.56px;font-size:12.60px;transform:scaleX(0.950)">25</span>
<span class="t q" style="left:878.24px;top:424.69px;font-size:12.60px;transform:scaleX(0.950)">14</span>
<span class="t q" style="left:897.34px;top:379.56px;font-size:12.60px;transform:scaleX(0.950)">15</span>
<span class="t q" style="left:900.88px;top:424.69px;font-size:12.60px;transform:scaleX(0.950)">8</span>
<span class="t q" style="left:916.30px;top:379.56px;font-size:12.60px;transform:scaleX(0.950)">14</span>
<span class="t q" style="left:916.41px;top:424.69px;font-size:12.60px;transform:scaleX(0.950)">11</span>
<span class="t q" style="left:935.45px;top:379.56px;font-size:12.60px;transform:scaleX(0.950)">12</span>
<span class="t q" style="left:935.40px;top:424.69px;font-size:12.60px;transform:scaleX(0.950)">15</span>
<span class="t" style="left:877.41px;top:536.40px;font-size:12.01px;transform:scaleX(1.324);word-spacing:4.00px;color:#111">C4 13:40</span>
<span class="t b" style="left:902.35px;top:568.05px;font-size:20.00px;transform:scaleX(0.950)">67</span>
<span class="t b" style="left:902.24px;top:680.68px;font-size:20.00px;transform:scaleX(0.950)">60</span>
<span class="t q" style="left:878.24px;top:605.22px;font-size:12.60px;transform:scaleX(0.950)">14</span>
<span class="t q" style="left:878.24px;top:650.35px;font-size:12.60px;transform:scaleX(0.950)">14</span>
<span class="t q" style="left:897.55px;top:605.22px;font-size:12.60px;transform:scaleX(0.950)">22</span>
<span class="t q" style="left:897.38px;top:650.35px;font-size:12.60px;transform:scaleX(0.950)">19</span>
<span class="t q" style="left:916.42px;top:605.22px;font-size:12.60px;transform:scaleX(0.950)">12</span>
<span class="t q" style="left:916.38px;top:650.35px;font-size:12.60px;transform:scaleX(0.950)">13</span>
<span class="t q" style="left:935.44px;top:605.22px;font-size:12.60px;transform:scaleX(0.950)">19</span>
<span class="t q" style="left:935.33px;top:650.35px;font-size:12.60px;transform:scaleX(0.950)">14</span>
<span class="t" style="left:876.91px;top:965.15px;font-size:12.01px;transform:scaleX(1.334);word-spacing:4.00px;color:#111">D3 12:20</span>
<span class="t b" style="left:902.55px;top:996.81px;font-size:20.00px;transform:scaleX(0.950)">43</span>
<span class="t b" style="left:902.28px;top:1109.44px;font-size:20.00px;transform:scaleX(0.950)">90</span>
<span class="t q" style="left:881.81px;top:1033.97px;font-size:12.60px;transform:scaleX(0.950)">6</span>
<span class="t q" style="left:878.48px;top:1079.10px;font-size:12.60px;transform:scaleX(0.950)">26</span>
<span class="t q" style="left:900.84px;top:1033.97px;font-size:12.60px;transform:scaleX(0.950)">6</span>
<span class="t q" style="left:897.51px;top:1079.10px;font-size:12.60px;transform:scaleX(0.950)">26</span>
<span class="t q" style="left:916.30px;top:1033.97px;font-size:12.60px;transform:scaleX(0.950)">14</span>
<span class="t q" style="left:916.54px;top:1079.10px;font-size:12.60px;transform:scaleX(0.950)">23</span>
<span class="t q" style="left:935.45px;top:1033.97px;font-size:12.60px;transform:scaleX(0.950)">17</span>
<span class="t q" style="left:935.40px;top:1079.10px;font-size:12.60px;transform:scaleX(0.950)">15</span>
<span class="t" style="left:881.62px;top:1190.81px;font-size:12.01px;transform:scaleX(1.323);word-spacing:4.00px;color:#111">D1 9:40</span>
<span class="t b" style="left:902.29px;top:1222.47px;font-size:20.00px;transform:scaleX(0.950)">66</span>
<span class="t b" style="left:902.24px;top:1335.10px;font-size:20.00px;transform:scaleX(0.950)">60</span>
<span class="t q" style="left:878.36px;top:1259.63px;font-size:12.60px;transform:scaleX(0.950)">17</span>
<span class="t q" style="left:878.35px;top:1304.76px;font-size:12.60px;transform:scaleX(0.950)">19</span>
<span class="t q" style="left:897.27px;top:1259.63px;font-size:12.60px;transform:scaleX(0.950)">14</span>
<span class="t q" style="left:897.27px;top:1304.76px;font-size:12.60px;transform:scaleX(0.950)">14</span>
<span class="t q" style="left:916.38px;top:1259.63px;font-size:12.60px;transform:scaleX(0.950)">16</span>
<span class="t q" style="left:916.30px;top:1304.76px;font-size:12.60px;transform:scaleX(0.950)">14</span>
<span class="t q" style="left:935.44px;top:1259.63px;font-size:12.60px;transform:scaleX(0.950)">19</span>
<span class="t q" style="left:935.41px;top:1304.76px;font-size:12.60px;transform:scaleX(0.950)">13</span>
<span class="t" style="left:345.28px;top:536.40px;font-size:12.01px;transform:scaleX(1.324);word-spacing:4.00px;color:#111">C5 15:00</span>
<span class="t b" style="left:370.16px;top:568.05px;font-size:20.00px;transform:scaleX(0.950)">63</span>
<span class="t b" style="left:370.48px;top:680.68px;font-size:20.00px;transform:scaleX(0.950)">42</span>
<span class="t q" style="left:346.35px;top:605.22px;font-size:12.60px;transform:scaleX(0.950)">23</span>
<span class="t q" style="left:349.73px;top:650.35px;font-size:12.60px;transform:scaleX(0.950)">5</span>
<span class="t q" style="left:365.14px;top:605.22px;font-size:12.60px;transform:scaleX(0.950)">14</span>
<span class="t q" style="left:365.22px;top:650.35px;font-size:12.60px;transform:scaleX(0.950)">16</span>
<span class="t q" style="left:384.24px;top:605.22px;font-size:12.60px;transform:scaleX(0.950)">15</span>
<span class="t q" style="left:384.24px;top:650.35px;font-size:12.60px;transform:scaleX(0.950)">15</span>
<span class="t q" style="left:403.31px;top:605.22px;font-size:12.60px;transform:scaleX(0.950)">11</span>
<span class="t q" style="left:406.77px;top:650.35px;font-size:12.60px;transform:scaleX(0.950)">6</span>
<span class="t" style="left:725.17px;top:536.40px;font-size:12.01px;transform:scaleX(1.324);word-spacing:4.00px;color:#111">C6 16:20</span>
<span class="t b" style="left:750.11px;top:568.05px;font-size:20.00px;transform:scaleX(0.950)">67</span>
<span class="t b" style="left:750.16px;top:680.68px;font-size:20.00px;transform:scaleX(0.950)">38</span>
<span class="t q" style="left:726.08px;top:605.22px;font-size:12.60px;transform:scaleX(0.950)">18</span>
<span class="t q" style="left:726.12px;top:650.35px;font-size:12.60px;transform:scaleX(0.950)">12</span>
<span class="t q" style="left:745.24px;top:605.22px;font-size:12.60px;transform:scaleX(0.950)">20</span>
<span class="t q" style="left:748.63px;top:650.35px;font-size:12.60px;transform:scaleX(0.950)">7</span>
<span class="t q" style="left:764.13px;top:605.22px;font-size:12.60px;transform:scaleX(0.950)">15</span>
<span class="t q" style="left:767.67px;top:650.35px;font-size:12.60px;transform:scaleX(0.950)">8</span>
<span class="t q" style="left:783.09px;top:605.22px;font-size:12.60px;transform:scaleX(0.950)">14</span>
<span class="t q" style="left:783.20px;top:650.35px;font-size:12.60px;transform:scaleX(0.950)">11</span>
<span class="t" style="left:388.82px;top:762.06px;font-size:12.01px;transform:scaleX(1.314);word-spacing:4.00px;color:#111">A1 9:40</span>
<span class="t b" style="left:408.07px;top:793.71px;font-size:20.00px;transform:scaleX(0.950)">74</span>
<span class="t b" style="left:408.38px;top:906.34px;font-size:20.00px;transform:scaleX(0.950)">52</span>
<span class="t q" style="left:384.44px;top:830.88px;font-size:12.60px;transform:scaleX(0.950)">21</span>
<span class="t q" style="left:384.17px;top:876.01px;font-size:12.60px;transform:scaleX(0.950)">14</span>
<span class="t q" style="left:403.26px;top:830.88px;font-size:12.60px;transform:scaleX(0.950)">10</span>
<span class="t q" style="left:403.28px;top:876.01px;font-size:12.60px;transform:scaleX(0.950)">18</span>
<span class="t q" style="left:422.47px;top:830.88px;font-size:12.60px;transform:scaleX(0.950)">23</span>
<span class="t q" style="left:422.31px;top:876.01px;font-size:12.60px;transform:scaleX(0.950)">13</span>
<span class="t q" style="left:441.47px;top:830.88px;font-size:12.60px;transform:scaleX(0.950)">20</span>
<span class="t q" style="left:444.86px;top:876.01px;font-size:12.60px;transform:scaleX(0.950)">7</span>
<span class="t" style="left:691.32px;top:762.06px;font-size:12.01px;transform:scaleX(1.323);word-spacing:4.00px;color:#111">D1 9:40</span>
<span class="t b" style="left:712.31px;top:793.71px;font-size:20.00px;transform:scaleX(0.950)">42</span>
<span class="t b" style="left:711.84px;top:906.34px;font-size:20.00px;transform:scaleX(0.950)">74</span>
<span class="t q" style="left:688.02px;top:830.88px;font-size:12.60px;transform:scaleX(0.950)">18</span>
<span class="t q" style="left:688.18px;top:876.01px;font-size:12.60px;transform:scaleX(0.950)">23</span>
<span class="t q" style="left:710.61px;top:830.88px;font-size:12.60px;transform:scaleX(0.950)">4</span>
<span class="t q" style="left:707.09px;top:876.01px;font-size:12.60px;transform:scaleX(0.950)">12</span>
<span class="t q" style="left:726.12px;top:830.88px;font-size:12.60px;transform:scaleX(0.950)">12</span>
<span class="t q" style="left:726.21px;top:876.01px;font-size:12.60px;transform:scaleX(0.950)">20</span>
<span class="t q" style="left:748.64px;top:830.88px;font-size:12.60px;transform:scaleX(0.950)">8</span>
<span class="t q" style="left:745.14px;top:876.01px;font-size:12.60px;transform:scaleX(0.950)">19</span>
<span class="t" style="left:344.78px;top:1190.81px;font-size:12.01px;transform:scaleX(1.334);word-spacing:4.00px;color:#111">D6 16:20</span>
<span class="t b" style="left:370.13px;top:1222.47px;font-size:20.00px;transform:scaleX(0.950)">75</span>
<span class="t b" style="left:370.46px;top:1335.10px;font-size:20.00px;transform:scaleX(0.950)">49</span>
<span class="t q" style="left:346.19px;top:1259.63px;font-size:12.60px;transform:scaleX(0.950)">16</span>
<span class="t q" style="left:346.22px;top:1304.76px;font-size:12.60px;transform:scaleX(0.950)">11</span>
<span class="t q" style="left:365.38px;top:1259.63px;font-size:12.60px;transform:scaleX(0.950)">23</span>
<span class="t q" style="left:365.25px;top:1304.76px;font-size:12.60px;transform:scaleX(0.950)">19</span>
<span class="t q" style="left:384.44px;top:1259.63px;font-size:12.60px;transform:scaleX(0.950)">21</span>
<span class="t q" style="left:384.23px;top:1304.76px;font-size:12.60px;transform:scaleX(0.950)">10</span>
<span class="t q" style="left:403.27px;top:1259.63px;font-size:12.60px;transform:scaleX(0.950)">15</span>
<span class="t q" style="left:406.81px;top:1304.76px;font-size:12.60px;transform:scaleX(0.950)">9</span>
<span class="t" style="left:724.67px;top:1190.81px;font-size:12.01px;transform:scaleX(1.334);word-spacing:4.00px;color:#111">D5 15:00</span>
<span class="t b" style="left:749.91px;top:1222.47px;font-size:20.00px;transform:scaleX(0.950)">24</span>
<span class="t b" style="left:750.18px;top:1335.10px;font-size:20.00px;transform:scaleX(0.950)">87</span>
<span class="t q" style="left:729.61px;top:1259.63px;font-size:12.60px;transform:scaleX(0.950)">2</span>
<span class="t q" style="left:726.27px;top:1304.76px;font-size:12.60px;transform:scaleX(0.950)">21</span>
<span class="t q" style="left:748.64px;top:1259.63px;font-size:12.60px;transform:scaleX(0.950)">8</span>
<span class="t q" style="left:745.31px;top:1304.76px;font-size:12.60px;transform:scaleX(0.950)">22</span>
<span class="t q" style="left:767.68px;top:1259.63px;font-size:12.60px;transform:scaleX(0.950)">5</span>
<span class="t q" style="left:764.30px;top:1304.76px;font-size:12.60px;transform:scaleX(0.950)">26</span>
<span class="t q" style="left:786.70px;top:1259.63px;font-size:12.60px;transform:scaleX(0.950)">9</span>
<span class="t q" style="left:783.17px;top:1304.76px;font-size:12.60px;transform:scaleX(0.950)">18</span>
<span class="t" style="left:546.52px;top:874.99px;font-size:12.01px;transform:scaleX(1.311);word-spacing:4.00px;color:#111">A3 12:20</span>
<span class="t b" style="left:522.22px;top:928.21px;font-size:20.00px;transform:scaleX(0.960)">52</span>
<span class="t b" style="left:618.66px;top:928.21px;font-size:20.00px;transform:scaleX(0.960)">53</span>
<span class="t q" style="left:554.40px;top:899.08px;font-size:12.60px;transform:scaleX(0.950)">13</span>
<span class="t q" style="left:597.03px;top:899.08px;font-size:12.60px;transform:scaleX(0.950)">6</span>
<span class="t q" style="left:554.44px;top:921.64px;font-size:12.60px;transform:scaleX(0.950)">12</span>
<span class="t q" style="left:593.59px;top:921.64px;font-size:12.60px;transform:scaleX(0.950)">17</span>
<span class="t q" style="left:554.43px;top:944.21px;font-size:12.60px;transform:scaleX(0.950)">11</span>
<span class="t q" style="left:593.55px;top:944.21px;font-size:12.60px;transform:scaleX(0.950)">16</span>
<span class="t q" style="left:554.40px;top:966.77px;font-size:12.60px;transform:scaleX(0.950)">16</span>
<span class="t q" style="left:593.46px;top:966.77px;font-size:12.60px;transform:scaleX(0.950)">14</span>
<span class="t" style="left:545.25px;top:1371.44px;font-size:12.01px;transform:scaleX(1.318);word-spacing:4.00px;color:#111">D3 12:20</span>
<span class="t b" style="left:522.18px;top:1424.66px;font-size:20.00px;transform:scaleX(0.960)">36</span>
<span class="t b" style="left:618.60px;top:1424.66px;font-size:20.00px;transform:scaleX(0.960)">71</span>
<span class="t q" style="left:557.96px;top:1395.53px;font-size:12.60px;transform:scaleX(0.950)">4</span>
<span class="t q" style="left:593.59px;top:1395.53px;font-size:12.60px;transform:scaleX(0.950)">17</span>
<span class="t q" style="left:557.88px;top:1418.09px;font-size:12.60px;transform:scaleX(0.950)">6</span>
<span class="t q" style="left:593.55px;top:1418.09px;font-size:12.60px;transform:scaleX(0.950)">18</span>
<span class="t q" style="left:557.92px;top:1440.66px;font-size:12.60px;transform:scaleX(0.950)">9</span>
<span class="t q" style="left:593.52px;top:1440.66px;font-size:12.60px;transform:scaleX(0.950)">10</span>
<span class="t q" style="left:554.44px;top:1463.23px;font-size:12.60px;transform:scaleX(0.950)">17</span>
<span class="t q" style="left:593.70px;top:1463.23px;font-size:12.60px;transform:scaleX(0.950)">26</span>
</div>
</body></html>
